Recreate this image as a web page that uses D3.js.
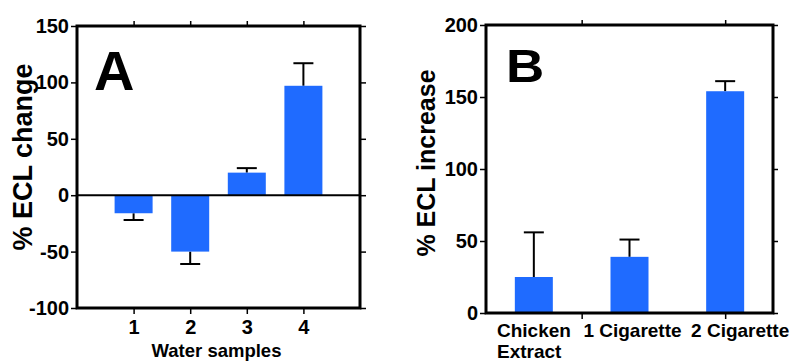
<!DOCTYPE html>
<html>
<head>
<meta charset="utf-8">
<script src="https://cdn.jsdelivr.net/npm/d3@7"></script>
<style>
  body { margin: 0; background: #fff; }
  svg { display: block; font-family: "Liberation Sans", Arial, sans-serif; font-weight: bold; }
</style>
</head>
<body>
<svg width="797" height="362"></svg>
<script>
// Panel A data
var samplesA = [1, 2, 3, 4];
var valuesA = [-16, -50, 20, 97];
var errorsA = [6, 11, 4, 20];
var yTicksA = [-100, -50, 0, 50, 100, 150];

// Panel B data
var categoriesB = [["Chicken", "Extract"], ["1 Cigarette"], ["2 Cigarette"]];
var positionsB = [1, 3, 5];
var valuesB = [25, 39, 154];
var errorsB = [31, 12, 7];
var yTicksB = [0, 50, 100, 150, 200];
var xTicksB = [2, 5];

var blue = "#1f6bff";
var svg = d3.select("svg");
var plain = function(d) { return String(d); };

function styleAxis(g) {
  g.attr("font-family", null).attr("font-size", null);
  g.select(".domain").remove();
  g.selectAll(".tick line").attr("stroke", "#000").attr("stroke-width", 1.5);
  g.selectAll(".tick text")
    .style("font-family", "'Liberation Sans Narrow', 'Liberation Sans', Arial, sans-serif")
    .style("font-weight", "bold")
    .style("font-size", "20px")
    .attr("fill", "#000");
}

// ---------- Panel A ----------
var xA = d3.scaleLinear().domain([0, 5]).range([77, 360]);
var yA = d3.scaleLinear().domain([-100, 150]).range([308, 26]);

var gA = svg.append("g");

gA.append("g").attr("transform", "translate(77,0)")
  .call(d3.axisLeft(yA).tickValues(yTicksA).tickSize(6).tickPadding(2).tickFormat(plain).tickSizeOuter(0))
  .call(styleAxis);
gA.append("g").attr("transform", "translate(360,0)")
  .call(d3.axisRight(yA).tickValues(yTicksA).tickSize(6).tickFormat("").tickSizeOuter(0))
  .call(styleAxis);
gA.append("g").attr("transform", "translate(0,308)")
  .call(d3.axisBottom(xA).tickValues(samplesA).tickSize(6).tickPadding(6).tickFormat(plain).tickSizeOuter(0))
  .call(styleAxis);
gA.append("g").attr("transform", "translate(0,26)")
  .call(d3.axisTop(xA).tickValues(samplesA).tickSize(5).tickFormat("").tickSizeOuter(0))
  .call(styleAxis);

// error bars A
var barW = 38, capW = 20;
samplesA.forEach(function(s, i) {
  var v = valuesA[i];
  var end = v < 0 ? v - errorsA[i] : v + errorsA[i];
  gA.append("line")
    .attr("x1", xA(s)).attr("x2", xA(s))
    .attr("y1", yA(v)).attr("y2", yA(end))
    .attr("stroke", "#000").attr("stroke-width", 2);
  gA.append("line")
    .attr("x1", xA(s) - capW / 2).attr("x2", xA(s) + capW / 2)
    .attr("y1", yA(end)).attr("y2", yA(end))
    .attr("stroke", "#000").attr("stroke-width", 2);
});

gA.selectAll("rect.bar").data(valuesA).enter()
  .append("rect")
  .attr("class", "bar")
  .attr("x", function(d, i) { return xA(samplesA[i]) - barW / 2; })
  .attr("y", function(d) { return yA(Math.max(0, d)); })
  .attr("width", barW)
  .attr("height", function(d) { return Math.abs(yA(d) - yA(0)); })
  .attr("fill", blue);

// zero line
gA.append("line")
  .attr("x1", xA(0)).attr("x2", xA(5))
  .attr("y1", yA(0)).attr("y2", yA(0))
  .attr("stroke", "#000").attr("stroke-width", 2);

gA.append("rect")
  .attr("x", 77).attr("y", 26).attr("width", 283).attr("height", 282)
  .attr("fill", "none").attr("stroke", "#000").attr("stroke-width", 3);

gA.append("text")
  .attr("transform", "translate(32,157) rotate(-90)")
  .attr("text-anchor", "middle")
  .style("font-size", "27px")
  .text("% ECL change");

gA.append("text")
  .attr("x", xA(2.5) - 2).attr("y", 357)
  .attr("text-anchor", "middle")
  .style("font-size", "18.5px")
  .text("Water samples");

gA.append("text")
  .attr("x", 94).attr("y", 90)
  .style("font-size", "56px")
  .text("A");

// ---------- Panel B ----------
var xB = d3.scaleLinear().domain([0, 6]).range([486, 773]);
var yB = d3.scaleLinear().domain([0, 200]).range([313, 25]);

var gB = svg.append("g");

gB.append("g").attr("transform", "translate(486,0)")
  .call(d3.axisLeft(yB).tickValues(yTicksB).tickSize(6).tickPadding(2).tickFormat(plain).tickSizeOuter(0))
  .call(styleAxis);
gB.append("g").attr("transform", "translate(773,0)")
  .call(d3.axisRight(yB).tickValues(yTicksB).tickSize(5).tickFormat("").tickSizeOuter(0))
  .call(styleAxis);
gB.append("g").attr("transform", "translate(0,313)")
  .call(d3.axisBottom(xB).tickValues(xTicksB).tickSize(6).tickFormat("").tickSizeOuter(0))
  .call(styleAxis);
gB.append("g").attr("transform", "translate(0,25)")
  .call(d3.axisTop(xB).tickValues(xTicksB).tickSize(5).tickFormat("").tickSizeOuter(0))
  .call(styleAxis);

positionsB.forEach(function(p, i) {
  var end = valuesB[i] + errorsB[i];
  gB.append("line")
    .attr("x1", xB(p)).attr("x2", xB(p))
    .attr("y1", yB(valuesB[i])).attr("y2", yB(end))
    .attr("stroke", "#000").attr("stroke-width", 2);
  gB.append("line")
    .attr("x1", xB(p) - capW / 2).attr("x2", xB(p) + capW / 2)
    .attr("y1", yB(end)).attr("y2", yB(end))
    .attr("stroke", "#000").attr("stroke-width", 2);
});

gB.selectAll("rect.bar").data(valuesB).enter()
  .append("rect")
  .attr("class", "bar")
  .attr("x", function(d, i) { return xB(positionsB[i]) - barW / 2; })
  .attr("y", function(d) { return yB(d); })
  .attr("width", barW)
  .attr("height", function(d) { return yB(0) - yB(d); })
  .attr("fill", blue);

gB.append("rect")
  .attr("x", 486).attr("y", 25).attr("width", 287).attr("height", 288)
  .attr("fill", "none").attr("stroke", "#000").attr("stroke-width", 3);

// category labels
var labelShift = [-3, 3, 15];
categoriesB.forEach(function(lines, i) {
  var t = gB.append("text")
    .attr("text-anchor", lines.length > 1 ? "start" : "middle")
    .style("font-size", "19px");
  lines.forEach(function(l, j) {
    t.append("tspan")
      .attr("x", lines.length > 1 ? 497 : xB(positionsB[i]) + labelShift[i])
      .attr("y", 337 + j * 21)
      .text(l);
  });
});

gB.append("text")
  .attr("transform", "translate(435,163) rotate(-90)")
  .attr("text-anchor", "middle")
  .style("font-size", "25px")
  .text("% ECL increase");

gB.append("text")
  .attr("x", 506).attr("y", 82)
  .style("font-size", "46px")
  .attr("transform", "translate(506,82) scale(1.15,1) translate(-506,-82)")
  .text("B");
</script>
</body>
</html>
